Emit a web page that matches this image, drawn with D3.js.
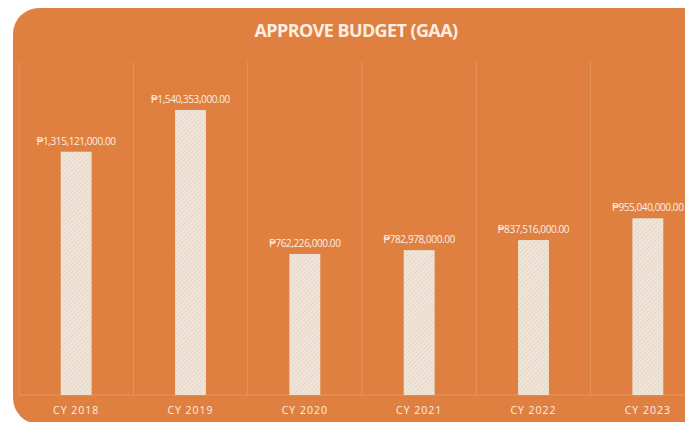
<!DOCTYPE html>
<html lang="en">
<head>
<meta charset="UTF-8">
<title>Approve Budget (GAA)</title>
<style>
    body { margin: 0; background: #ffffff; }
    svg { display: block; }
    .title { font-family: "Open Sans", sans-serif; font-weight: bold; font-size: 18px; fill: #fbeee2; letter-spacing: -0.6px; }
    .val { font-family: "Open Sans", sans-serif; font-size: 10px; fill: #fbeee2; letter-spacing: -0.4px; }
    .cat { font-family: "Open Sans", sans-serif; font-size: 10.5px; fill: #fbeee2; letter-spacing: 1px; }
</style>
</head>
<body>
<svg id="container" width="685" height="422"></svg>
<script src="https://cdn.jsdelivr.net/npm/d3@7"></script>
<script>
// data
let years = ["CY 2018", "CY 2019", "CY 2020", "CY 2021", "CY 2022", "CY 2023"]
let budget = [1315121000, 1540353000, 762226000, 782978000, 837516000, 955040000]
let labels = ["₱1,315,121,000.00", "₱1,540,353,000.00", "₱762,226,000.00",
              "₱782,978,000.00", "₱837,516,000.00", "₱955,040,000.00"]

let svg = d3.select("#container")
let orange = "#df8041"
let cream = "#f1e6da"

// hatch pattern for the bars
let pat = svg.append("defs").append("pattern")
    .attr("id", "hatch")
    .attr("patternUnits", "userSpaceOnUse")
    .attr("width", 3).attr("height", 3)
    .attr("patternTransform", "rotate(45)")
pat.append("rect").attr("width", 3).attr("height", 3).attr("fill", cream)
pat.append("line").attr("x1", 0).attr("y1", 0).attr("x2", 0).attr("y2", 3)
    .attr("stroke", "#d6c6b6").attr("stroke-width", 1)

// background card
svg.append("rect")
    .attr("x", 13).attr("y", 8)
    .attr("width", 700).attr("height", 416)
    .attr("rx", 26)
    .attr("fill", orange)

svg.append("text")
    .attr("class", "title")
    .attr("x", 356).attr("y", 37)
    .attr("text-anchor", "middle")
    .text("APPROVE BUDGET (GAA)")

let bodyTop = 62
let bodyBottom = 395
let left = 19
let right = 705

let xScale = d3.scaleBand()
    .domain(years)
    .range([left, right])
    .paddingInner(0.73)
    .paddingOuter(0.365)

let band = (right - left) / years.length

let yScale = d3.scaleLinear()
    .domain([0, 1800000000])
    .range([bodyBottom, bodyTop])

// category separators
let body = svg.append("g")
body.selectAll(".sep")
    .data(d3.range(years.length + 1))
    .enter().append("line")
    .attr("x1", i => left + i * band)
    .attr("x2", i => left + i * band)
    .attr("y1", bodyTop)
    .attr("y2", bodyBottom)
    .attr("stroke", "#e8955c")
    .attr("stroke-width", 1)

body.append("line")
    .attr("x1", left).attr("x2", right)
    .attr("y1", bodyBottom).attr("y2", bodyBottom)
    .attr("stroke", "#e8955c")

body.selectAll(".bar")
    .data(budget)
    .enter().append("rect")
    .attr("x", (d, i) => xScale(years[i]))
    .attr("width", xScale.bandwidth())
    .attr("y", d => yScale(d))
    .attr("height", d => bodyBottom - yScale(d))
    .attr("fill", "url(#hatch)")

body.selectAll(".val")
    .data(budget)
    .enter().append("text")
    .attr("class", "val")
    .attr("x", (d, i) => xScale(years[i]) + xScale.bandwidth() / 2)
    .attr("y", d => yScale(d) - 7)
    .attr("text-anchor", "middle")
    .text((d, i) => labels[i])

// x axis labels
let xAxis = svg.append("g")
    .attr("transform", "translate(0," + bodyBottom + ")")
    .call(d3.axisBottom(xScale).tickSize(0).tickPadding(12))
xAxis.select(".domain").remove()
xAxis.selectAll("text").attr("class", "cat").attr("fill", null)
</script>
</body>
</html>
